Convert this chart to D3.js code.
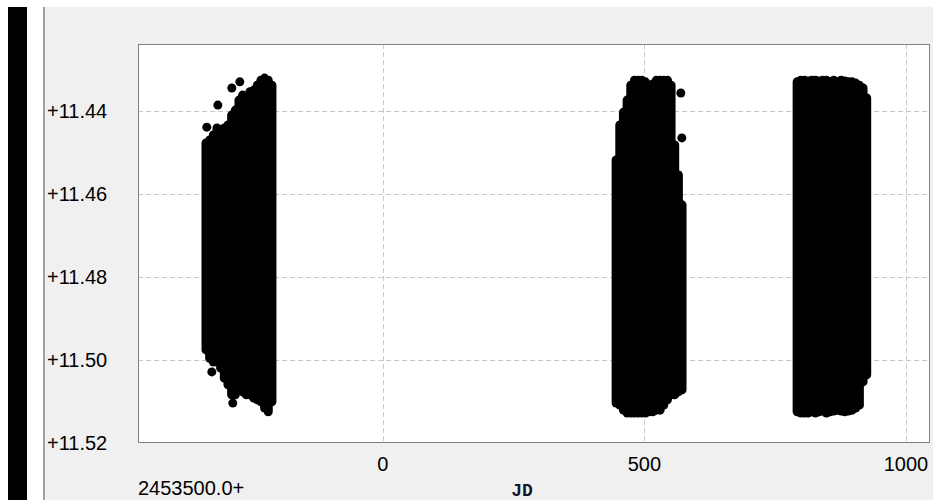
<!DOCTYPE html>
<html><head><meta charset="utf-8">
<script src="https://cdn.jsdelivr.net/npm/d3@7"></script>
<style>html,body{margin:0;padding:0;background:#fff;}svg{display:block;}</style>
</head><body>
<script>
// ---- data (JD - 2453500.0, V magnitude) ----
// nightly coverage: each night's observations span from brightest (hi) to faintest (lo)
const season1Jd = [-338,-331,-324,-317,-310,-303,-296,-289,-282,-275,-268,-261,-254,-247,-240,-233,-226,-219,-212];
const season1Hi = [11.4478,11.4471,11.4459,11.4442,11.4447,11.4442,11.4435,11.4411,11.4399,11.4375,11.4363,11.4375,11.4355,11.4351,11.4339,11.4327,11.4322,11.4327,11.4339];
const season1Lo = [11.4976,11.4996,11.5005,11.5005,11.5020,11.5044,11.5060,11.5084,11.5084,11.5072,11.5077,11.5084,11.5084,11.5092,11.5096,11.5101,11.5116,11.5125,11.5101];

const season2Jd = [446,453,460,467,474,481,488,495,502,509,516,523,530,537,544,551,558,565,572];
const season2Hi = [11.4519,11.4435,11.4404,11.4375,11.4339,11.4327,11.4327,11.4327,11.4331,11.4343,11.4336,11.4327,11.4327,11.4327,11.4327,11.4339,11.4483,11.4555,11.4627];
const season2Lo = [11.5104,11.5109,11.5121,11.5128,11.5128,11.5128,11.5128,11.5128,11.5128,11.5125,11.5125,11.5121,11.5121,11.5109,11.5096,11.5084,11.5084,11.5077,11.5072];

const season3Jd = [792,799,806,813,820,827,834,841,848,855,862,869,876,883,890,897,904,911,918,925];
const season3Hi = [11.4331,11.4327,11.4327,11.4329,11.4327,11.4327,11.4329,11.4327,11.4327,11.4331,11.4327,11.4331,11.4327,11.4329,11.4331,11.4331,11.4334,11.4339,11.4346,11.4370];
const season3Lo = [11.5125,11.5128,11.5128,11.5128,11.5125,11.5128,11.5125,11.5123,11.5128,11.5125,11.5123,11.5121,11.5123,11.5125,11.5123,11.5121,11.5116,11.5109,11.5053,11.5036];

// isolated observations outside the dense nightly bands
const outlierJd  = [-336.5,-315.4,-288.7,-273.4,-326.9,-286.8,569.7,571.6];
const outlierMag = [11.4440,11.4387,11.4346,11.4331,11.5029,11.5104,11.4358,11.4466];

const xTicks = [0, 500, 1000];
const yTicks = [11.44, 11.46, 11.48, 11.50, 11.52];
const xDomain = [-468, 1046];
const yDomain = [11.424, 11.52];
const jdOffsetLabel = "2453500.0+";
const xTitle = "JD";

// ---- layout ----
const W = 933, H = 500;
const plot = {left: 138, top: 44, right: 930, bottom: 443};

const svg = d3.select("body").append("svg").attr("width", W).attr("height", H);

// window chrome
svg.append("rect").attr("x",0).attr("y",0).attr("width",W).attr("height",H).attr("fill","#ffffff");
svg.append("rect").attr("x",45).attr("y",7).attr("width",W-45).attr("height",H-7).attr("fill","#f0f0f0");
svg.append("rect").attr("x",8).attr("y",7).attr("width",19).attr("height",H-7).attr("fill","#000000");
svg.append("rect").attr("x",43).attr("y",7).attr("width",2).attr("height",H-7).attr("fill","#a0a0a0");

const x = d3.scaleLinear().domain(xDomain).range([plot.left, plot.right]);
const y = d3.scaleLinear().domain(yDomain).range([plot.top, plot.bottom]);

// plot area
svg.append("rect").attr("x",plot.left).attr("y",plot.top)
  .attr("width",plot.right-plot.left).attr("height",plot.bottom-plot.top)
  .attr("fill","#ffffff");

// grid
const grid = svg.append("g").attr("stroke","#c8c8c8").attr("stroke-width",1).attr("stroke-dasharray","5,3");
grid.selectAll("line.v").data(xTicks).join("line").attr("class","v")
  .attr("x1",d=>Math.round(x(d))+0.5).attr("x2",d=>Math.round(x(d))+0.5)
  .attr("y1",plot.top).attr("y2",plot.bottom);
grid.selectAll("line.h").data(yTicks.filter(d=>d<yDomain[1])).join("line").attr("class","h")
  .attr("y1",d=>Math.round(y(d))+0.5).attr("y2",d=>Math.round(y(d))+0.5)
  .attr("x1",plot.left).attr("x2",plot.right);

// data
const seasons = [
  {jd: season1Jd, hi: season1Hi, lo: season1Lo},
  {jd: season2Jd, hi: season2Hi, lo: season2Lo},
  {jd: season3Jd, hi: season3Hi, lo: season3Lo}
];
const nights = [];
seasons.forEach(s => s.jd.forEach((d,i) => nights.push({jd:d, hi:s.hi[i], lo:s.lo[i]})));
const pts = svg.append("g");
pts.selectAll("line").data(nights).join("line")
  .attr("x1",d=>x(d.jd)).attr("x2",d=>x(d.jd))
  .attr("y1",d=>y(d.hi)).attr("y2",d=>y(d.lo))
  .attr("stroke","#000").attr("stroke-width",9).attr("stroke-linecap","round");
pts.selectAll("circle").data(outlierJd.map((d,i)=>({jd:d, mag:outlierMag[i]}))).join("circle")
  .attr("cx",d=>x(d.jd)).attr("cy",d=>y(d.mag)).attr("r",4.5).attr("fill","#000");

// frame
svg.append("rect").attr("x",plot.left+0.5).attr("y",plot.top+0.5)
  .attr("width",plot.right-plot.left-1).attr("height",plot.bottom-plot.top-1)
  .attr("fill","none").attr("stroke","#808080").attr("stroke-width",1);

// axis labels
const font = "'Liberation Sans', Arial, sans-serif";
svg.append("g").selectAll("text").data(yTicks).join("text")
  .attr("x",47).attr("y",d=>y(d)).attr("dy","0.36em")
  .attr("font-family",font).attr("font-size",20).attr("fill","#000")
  .text(d=>"+"+d3.format(".2f")(d));
svg.append("g").selectAll("text").data(xTicks).join("text")
  .attr("x",d=>x(d)).attr("y",471).attr("text-anchor","middle")
  .attr("font-family",font).attr("font-size",20).attr("fill","#000")
  .text(d=>d);
svg.append("text").attr("x",138).attr("y",495)
  .attr("font-family",font).attr("font-size",20).attr("fill","#000").text(jdOffsetLabel);
svg.append("text").attr("x",522).attr("y",496).attr("text-anchor","middle")
  .attr("font-family","'Liberation Mono', 'Courier New', monospace").attr("font-weight","bold")
  .attr("font-size",18).attr("fill","#101830").text(xTitle);
</script>
</body></html>
